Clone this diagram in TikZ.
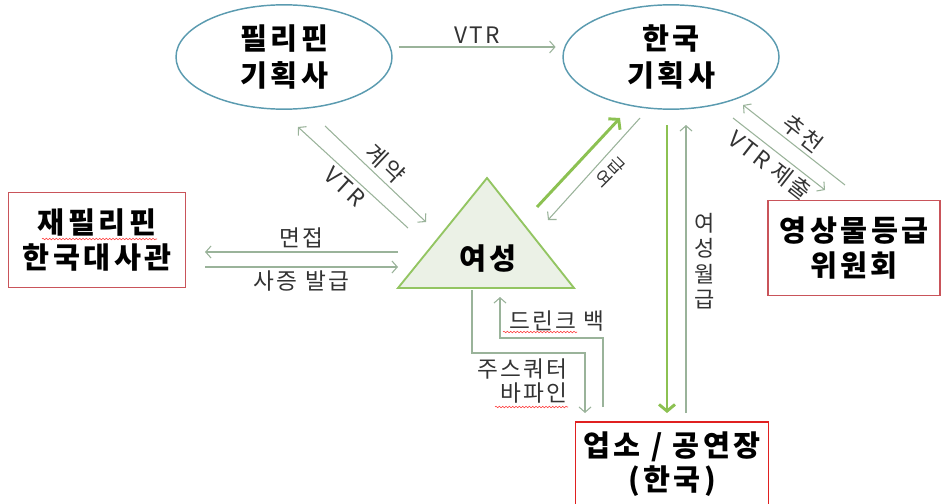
\documentclass[tikz,border=0pt]{standalone}
\usepackage{fontspec}
\setmainfont{Noto Sans CJK KR}
\newfontfamily\boxfont{Noto Sans CJK KR}[LetterSpace=12]
\newfontfamily\lblfont{Noto Sans CJK KR}[LetterSpace=10]
\usetikzlibrary{shapes.geometric,arrows.meta,decorations.pathmorphing}

\definecolor{agencyblue}{HTML}{5B9BB0}
\definecolor{boxred}{HTML}{C9545A}
\definecolor{venuered}{HTML}{E02020}
\definecolor{flowgray}{HTML}{9AB39A}
\definecolor{moneygreen}{HTML}{8CC152}
\definecolor{womanfill}{HTML}{EBF1E6}
\definecolor{womanline}{HTML}{93C562}

\tikzset{
  agency/.style={ellipse, draw=agencyblue, line width=1.1pt, minimum width=162pt,
    minimum height=78pt, align=center, font=\boxfont\bfseries\fontsize{22}{28}\selectfont},
  office/.style={draw=boxred, line width=1.1pt, minimum width=133pt, minimum height=71pt,
    align=center, font=\boxfont\bfseries\fontsize{22}{26}\selectfont},
  flow/.style={flowgray, line width=0.8pt, -{Straight Barb[length=4pt,width=9pt]}},
  money/.style={moneygreen, line width=2.2pt, -{Straight Barb[length=5pt,width=12pt]}},
  lbl/.style={font=\lblfont\fontsize{17}{18}\selectfont, text=black!80, inner sep=2.5pt},
  squiggle/.style={red!80, line width=0.4pt, decorate,
    decoration={snake, amplitude=0.6pt, segment length=2.5pt}}
}

\begin{document}
\begin{tikzpicture}[x=0.75pt, y=-0.75pt]
    \useasboundingbox (0, 0) rectangle (941, 503);
        % agencies
        \node[agency] (phAgency) at (284, 57) {필리핀\\기획사};
        \node[agency] (krAgency) at (671, 57) {한국\\기획사};
        % offices
        \node[office] (embassy) at (97, 240) {재필리핀\\한국대사관};
        \node[office, minimum width=129pt] (kmrb) at (854, 248) {영상물등급\\위원회};
        \node[office, draw=venuered, minimum width=145pt, minimum height=63pt] (venue) at (672, 464) {업소 / 공연장\\(한국)};
        % woman
        \coordinate (apex) at (487, 178);
        \coordinate (baseL) at (398, 288);
        \coordinate (baseR) at (574, 288);
        \filldraw[fill=womanfill, draw=womanline, line width=1.4pt] (apex) -- (baseL) -- (baseR) -- cycle;
        \node[font=\boxfont\bfseries\fontsize{22}{24}\selectfont] (woman) at (488, 259) {여성};
        % VTR between agencies
        \draw[flow] ([xshift=4.5pt, yshift=7.5pt]phAgency.east) -- node[lbl, above] {VTR} ([xshift=-5pt, yshift=7.5pt]krAgency.west);
        % philippine agency <-> woman
        \coordinate (vtrA) at (298, 127);
        \coordinate (vtrB) at (408, 228);
        \coordinate (ctrA) at (325, 126);
        \coordinate (ctrB) at (426, 222);
        \draw[flow] (vtrB) -- node[lbl, sloped, below] {VTR} (vtrA);
        \draw[flow] (ctrA) -- node[lbl, sloped, above] {계약} (ctrB);
        % embassy <-> woman
        \coordinate (itvA) at (398, 252);
        \coordinate (itvB) at (205, 252);
        \coordinate (visaA) at (205, 267);
        \coordinate (visaB) at (398, 267);
        \draw[flow] (itvA) -- node[lbl, above] {면접} (itvB);
        \draw[flow] (visaA) -- node[lbl, below] {사증 발급} (visaB);
        % korean agency <-> woman
        \coordinate (goA) at (537, 207);
        \coordinate (goB) at (620, 118);
        \coordinate (payA) at (640, 118);
        \coordinate (payB) at (548, 220);
        \draw[money] (goA) -- (goB);
        \draw[flow] (payA) -- (payB);
        \node[lbl, rotate=-45, align=center, font=\fontsize{13}{14}\selectfont] (payLbl) at (610, 172) {급\\여};
        % korean agency <-> venue
        \coordinate (sendA) at (667, 125);
        \coordinate (sendB) at (667, 413);
        \coordinate (wageA) at (686, 413);
        \coordinate (wageB) at (686, 125);
        \draw[money] (sendA) -- (sendB);
        \draw[flow] (wageA) -- (wageB);
        \node[lbl, align=center, font=\fontsize{16.5}{19}\selectfont] (wageLbl) at (705, 261) {여\\성\\월\\급};
        % korean agency <-> rating board
        \coordinate (recA) at (845, 185);
        \coordinate (recB) at (743, 105);
        \coordinate (subA) at (733, 118);
        \coordinate (subB) at (825, 190);
        \draw[flow] (recA) -- node[lbl, sloped, above] {추천} (recB);
        \draw[flow] (subA) -- node[lbl, sloped, below] {VTR 제출} (subB);
        % woman <-> venue
        \coordinate (quotaA) at (472, 290);
        \coordinate (quotaB) at (585, 413);
        \coordinate (drinkA) at (603, 407);
        \coordinate (drinkB) at (500, 297);
        \draw[flow] (quotaA) |- (585, 353) -- (quotaB);
        \draw[flow] (drinkA) |- (500, 338) -- (drinkB);
        \node[lbl] (drinkLbl) at (557, 321) {드린크 백};
        \node[lbl, align=right, anchor=east] (quotaLbl) at (571, 381) {주스쿼터\\바파인};
        % spell-check marks
        \draw[squiggle] (42, 239) -- (157, 239);
        \draw[squiggle] (503, 332) -- (577, 332);
        \draw[squiggle] (495, 407) -- (568, 407);
    \end{tikzpicture}
\end{document}
